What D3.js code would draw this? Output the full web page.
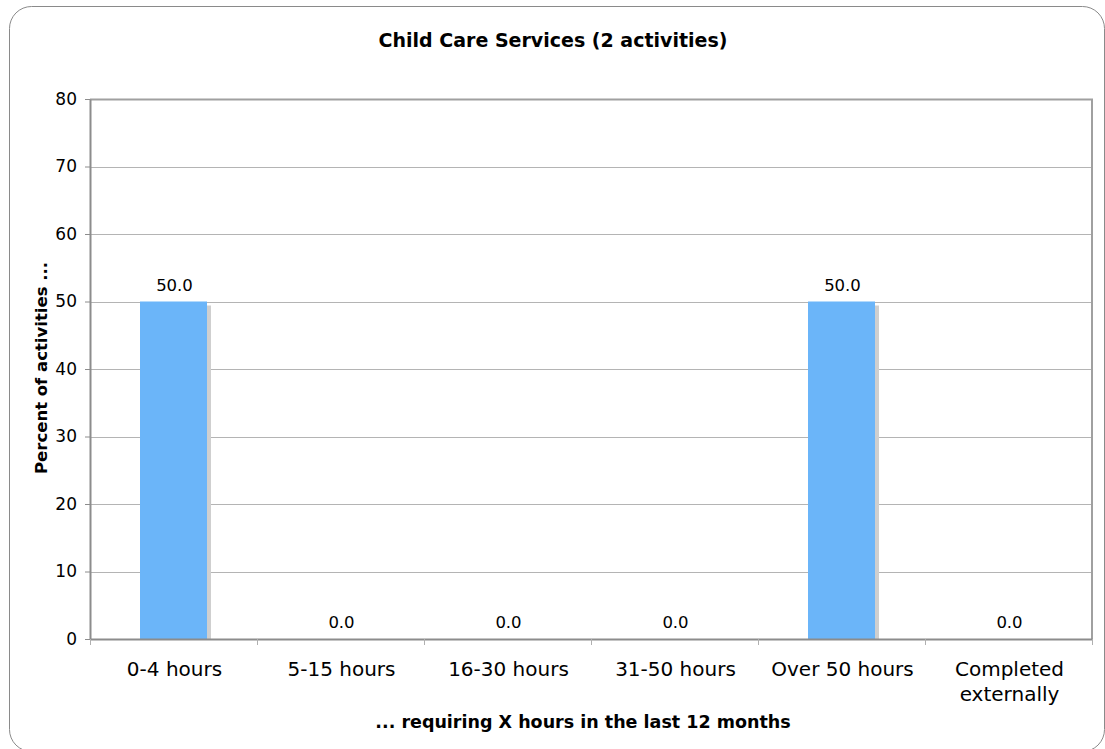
<!DOCTYPE html>
<html>
<head>
<meta charset="utf-8">
<script src="https://cdn.jsdelivr.net/npm/d3@7/dist/d3.min.js"></script>
<style>
  html, body { margin: 0; padding: 0; background: #fff; }
  svg { display: block; font-family: "DejaVu Sans", Verdana, sans-serif; }
</style>
</head>
<body>
<svg id="chart" width="1105" height="749"></svg>
<script>
// Share of activities by hours required
const categories = ["0-4 hours", "5-15 hours", "16-30 hours", "31-50 hours", "Over 50 hours", "Completed externally"];
const values = [50.0, 0.0, 0.0, 0.0, 50.0, 0.0];
const yTicks = [0, 10, 20, 30, 40, 50, 60, 70, 80];
const titleText = "Child Care Services (2 activities)";
const yLabel = "Percent of activities ...";
const xLabel = "... requiring X hours in the last 12 months";

const svg = d3.select("#chart");
const m = { left: 90, right: 1092, top: 99, bottom: 639 };

// Rounded outer frame
svg.append("rect")
  .attr("x", 9.5).attr("y", 6.5)
  .attr("width", 1095).attr("height", 745)
  .attr("rx", 22).attr("ry", 22)
  .attr("fill", "#fff").attr("stroke", "#8a8a8a").attr("stroke-width", 1);

const x = d3.scaleBand().domain(categories).range([m.left, m.right]).paddingInner(0).paddingOuter(0);
const y = d3.scaleLinear().domain([0, 80]).range([m.bottom, m.top]);

// Horizontal gridlines
svg.append("g").selectAll("line").data(yTicks.filter(t => t > 0 && t < 80)).join("line")
  .attr("x1", m.left).attr("x2", m.right)
  .attr("y1", d => Math.round(y(d)) + 0.5).attr("y2", d => Math.round(y(d)) + 0.5)
  .attr("stroke", "#b4b4b4").attr("stroke-width", 1);

// Plot frame: top and right edges
svg.append("path")
  .attr("d", `M${m.left},${m.top + 0.5}H${m.right}V${m.bottom}`)
  .attr("fill", "none").attr("stroke", "#a0a0a0").attr("stroke-width", 2);

// Bars with a soft drop shadow on the right
const barW = 67;
const rows = values.map((v, i) => ({ v, c: categories[i] }));
const bars = svg.append("g");
bars.selectAll("rect.shadow").data(rows.filter(d => d.v > 0)).join("rect")
  .attr("class", "shadow")
  .attr("x", d => x(d.c) + x.bandwidth() / 2 - barW / 2 + 4)
  .attr("y", d => y(d.v) + 4)
  .attr("width", barW)
  .attr("height", d => y(0) - y(d.v) - 4)
  .attr("fill", "#cfcfcf");
bars.selectAll("rect.bar").data(rows.filter(d => d.v > 0)).join("rect")
  .attr("class", "bar")
  .attr("x", d => x(d.c) + x.bandwidth() / 2 - barW / 2)
  .attr("y", d => y(d.v))
  .attr("width", barW)
  .attr("height", d => y(0) - y(d.v))
  .attr("fill", "#6bb5f9");

// Value labels
svg.append("g").selectAll("text").data(rows).join("text")
  .attr("x", d => x(d.c) + x.bandwidth() / 2 + 1)
  .attr("y", d => y(d.v) - 11)
  .attr("text-anchor", "middle")
  .attr("font-size", 16.5)
  .attr("fill", "#000")
  .text(d => d.v.toFixed(1));

// Y axis
const yAxis = svg.append("g").attr("transform", `translate(${m.left},0)`)
  .call(d3.axisLeft(y).tickValues(yTicks).tickSize(5).tickPadding(8).tickSizeOuter(0));
yAxis.select(".domain").attr("stroke", "#8c8c8c").attr("stroke-width", 2);
yAxis.selectAll(".tick line").attr("stroke", "#8c8c8c");
yAxis.selectAll(".tick text").attr("font-size", 17).attr("fill", "#000")
  .attr("font-family", "DejaVu Sans, Verdana, sans-serif");

// X axis
const xAxis = svg.append("g").attr("transform", `translate(0,${m.bottom})`)
  .call(d3.axisBottom(x).tickSize(0).tickSizeOuter(0));
xAxis.select(".domain").attr("stroke", "#8c8c8c").attr("stroke-width", 2);
xAxis.selectAll(".tick text").remove();
// Category boundary ticks
svg.append("g").selectAll("line").data(categories.map(c => x(c)).concat([m.right])).join("line")
  .attr("x1", d => Math.round(d) + 0.5).attr("x2", d => Math.round(d) + 0.5)
  .attr("y1", m.bottom).attr("y2", m.bottom + 6)
  .attr("stroke", "#b0b0b0").attr("stroke-width", 1);
// Category labels, long names on two lines
svg.append("g").selectAll("text").data(categories).join("text")
  .attr("text-anchor", "middle")
  .attr("font-size", 20)
  .attr("fill", "#000")
  .each(function (c) {
    const t = d3.select(this);
    const cx = x(c) + x.bandwidth() / 2 + 1;
    const lines = c === "Completed externally" ? ["Completed", "externally"] : [c];
    lines.forEach((ln, i) => {
      t.append("tspan").attr("x", cx).attr("y", 676 + i * 25).text(ln);
    });
  });

// Title
svg.append("text")
  .attr("x", 553).attr("y", 47)
  .attr("text-anchor", "middle")
  .attr("font-size", 19).attr("font-weight", "bold")
  .text(titleText);

// Axis titles
svg.append("text")
  .attr("transform", `translate(47,368) rotate(-90)`)
  .attr("text-anchor", "middle")
  .attr("font-size", 16.5).attr("font-weight", "bold")
  .text(yLabel);

svg.append("text")
  .attr("x", 583).attr("y", 728)
  .attr("text-anchor", "middle")
  .attr("font-size", 17.5).attr("font-weight", "bold")
  .text(xLabel);
</script>
</body>
</html>
